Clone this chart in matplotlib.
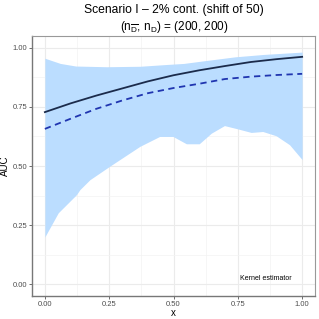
import numpy as np
import matplotlib.pyplot as plt

plt.rcParams['font.family'] = ['Liberation Sans', 'DejaVu Sans']
plt.rcParams['mathtext.fontset'] = 'custom'
plt.rcParams['mathtext.rm'] = 'Liberation Sans'
plt.rcParams['mathtext.it'] = 'Liberation Sans'

# estimated curves
x_mid = [0.0, 0.1, 0.2, 0.3, 0.4, 0.5, 0.6, 0.7, 0.8, 0.9, 1.0]
auc_true = [0.728, 0.765, 0.798, 0.828, 0.858, 0.884, 0.905, 0.923, 0.940, 0.952, 0.962]
auc_kernel = [0.657, 0.700, 0.742, 0.777, 0.808, 0.830, 0.848, 0.868, 0.878, 0.885, 0.890]

x_up = [0.0, 0.06, 0.12, 0.24, 0.37, 0.48, 0.54, 0.61, 0.74, 0.85, 1.0]
band_up = [0.956, 0.934, 0.923, 0.920, 0.922, 0.930, 0.934, 0.944, 0.962, 0.972, 0.982]

x_lo = [0.0, 0.052, 0.123, 0.136, 0.175, 0.252, 0.369, 0.446, 0.498, 0.55, 0.60,
        0.647, 0.698, 0.75, 0.802, 0.847, 0.899, 0.951, 1.0]
band_lo = [0.20, 0.302, 0.379, 0.40, 0.442, 0.499, 0.583, 0.625, 0.625, 0.594, 0.594,
           0.639, 0.671, 0.657, 0.642, 0.646, 0.628, 0.59, 0.527]


def main():
    fig = plt.figure(figsize=(3.19, 3.19), dpi=100)
    ax = fig.add_axes([0.1003, 0.0721, 0.8872, 0.8150])

    xs = np.union1d(x_up, x_lo)
    ax.fill_between(xs, np.interp(xs, x_lo, band_lo), np.interp(xs, x_up, band_up),
                    color='#BBDDFF', lw=0, zorder=2)
    ax.plot(x_mid, auc_true, color='#1B2B4B', lw=1.3, zorder=3)
    ax.plot(x_mid, auc_kernel, color='#2035B0', lw=1.3, ls=(0, (3.5, 2.5)), zorder=3)

    ax.set_xlim(-0.05, 1.05)
    ax.set_ylim(-0.05, 1.05)
    ticks = [0, 0.25, 0.5, 0.75, 1.0]
    ax.set_xticks(ticks)
    ax.set_yticks(ticks)
    ax.set_xticklabels(['0.00', '0.25', '0.50', '0.75', '1.00'])
    ax.set_yticklabels(['0.00', '0.25', '0.50', '0.75', '1.00'])
    ax.set_xticks([0.125, 0.375, 0.625, 0.875], minor=True)
    ax.set_yticks([0.125, 0.375, 0.625, 0.875], minor=True)
    ax.grid(True, which='major', color='#EBEBEB', lw=0.8, zorder=0)
    ax.grid(True, which='minor', color='#F3F3F3', lw=0.5, zorder=0)
    ax.set_axisbelow(True)
    ax.tick_params(which='major', length=2, width=0.6, color='#555555',
                   labelsize=5.5, labelcolor='#4D4D4D', pad=1.5)
    ax.tick_params(which='minor', length=0)
    for s in ['top', 'right']:
        ax.spines[s].set_color('#999999')
        ax.spines[s].set_linewidth(0.8)
    for s in ['left', 'bottom']:
        ax.spines[s].set_color('#777777')
        ax.spines[s].set_linewidth(1.0)

    ax.set_xlabel('x', fontsize=7, labelpad=0)
    ax.set_ylabel('AUC', fontsize=7, labelpad=2)
    ax.text(0.86, 0.025, 'Kernel estimator', fontsize=5, ha='center', va='center', zorder=4)

    fig.text(0.545, 0.970, 'Scenario I \u2013 2% cont. (shift of 50)', fontsize=8.7,
             ha='center', va='center')
    fig.text(0.545, 0.915, r'($\mathrm{n}_{\overline{\mathrm{D}}}$, $\mathrm{n}_{\mathrm{D}}$) = (200, 200)',
             fontsize=8.5, ha='center', va='center')

    fig.savefig('out.png', dpi=100)


if __name__ == '__main__':
    main()
